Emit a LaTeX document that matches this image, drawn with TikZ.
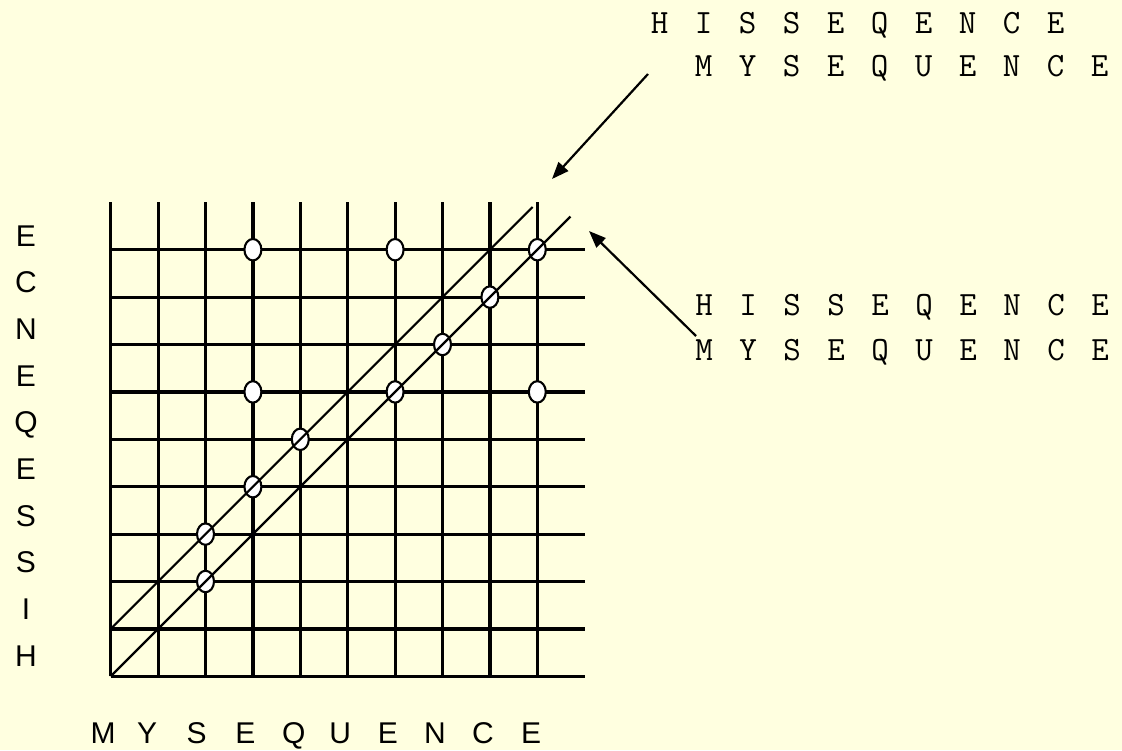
\documentclass[tikz,border=0pt]{standalone}
\usepackage{fontspec}
\setmainfont{Liberation Sans}
\usetikzlibrary{arrows.meta,shapes.geometric}
\definecolor{bgyellow}{RGB}{255,255,224}
\newcommand\spacedseq[1]{\foreach \c in {#1}{\makebox[44pt][c]{\c}}}
\begin{document}
\begin{tikzpicture}[x=1pt,y=-1pt,
  gridline/.style={line width=3.2pt},
  diag/.style={line width=2.2pt},
  dot/.style={ellipse, draw, fill=white, line width=2.1pt, minimum width=17pt, minimum height=21.5pt, inner sep=0pt},
  lbl/.style={font=\fontsize{30}{30}\selectfont, inner sep=0pt, anchor=base},
  seq/.style={font=\ttfamily\fontsize{34}{34}\selectfont, inner sep=0pt, anchor=base west},
  arr/.style={line width=2.2pt, -{Triangle[length=17pt,width=13pt]}}
]
\fill[bgyellow] (0,0) rectangle (1122,750);
\useasboundingbox (0,0) rectangle (1122,750);

\begin{scope}[shift={(110.7,676.3)}, x=47.4pt, y=47.4pt]
  \foreach \j in {0,...,9} \draw[gridline] (\j,0) -- (\j,10);
  \foreach \k in {0,...,9} \draw[gridline] (0,\k) -- (10,\k);
  \foreach \p/\q [count=\n] in {3/9,6/9,9/9,8/8,7/7,3/6,6/6,9/6,4/5,3/4,2/3,2/2}
    \node[dot] (m\n) at (\p,\q) {};
  \coordinate (d1a) at (0,1);
  \coordinate (d1b) at (8.9,9.9);
  \coordinate (d2a) at (0,0);
  \coordinate (d2b) at (9.7,9.7);
  \draw[diag] (d1a) -- (d1b);
  \draw[diag] (d2a) -- (d2b);
\end{scope}

\node[seq] (t1) at (637.5,33) {\spacedseq{H,I,S,S,E,Q,E,N,C,E}};
\node[seq] (t2) at (681.5,76) {\spacedseq{M,Y,S,E,Q,U,E,N,C,E}};
\node[seq] (t3) at (682,315) {\spacedseq{H,I,S,S,E,Q,E,N,C,E}};
\node[seq] (t4) at (682,360) {\spacedseq{M,Y,S,E,Q,U,E,N,C,E}};

\coordinate (a1s) at (648,74);
\coordinate (a1e) at (552,179);
\coordinate (a2s) at (696,336);
\coordinate (a2e) at (589,231);
\draw[arr] (a1s) -- (a1e);
\draw[arr] (a2s) -- (a2e);

\foreach \ch [count=\i from 0] in {E,C,N,E,Q,E,S,S,I,H}
  \node[lbl] (v\i) at (26,{246+46.67*\i}) {\ch};

\foreach \ch/\xx [count=\i] in {M/103,Y/147.2,S/196.7,E/245.5,Q/293.8,U/340.2,E/388,N/435,C/483,E/531}
  \node[lbl] (h\i) at (\xx,743) {\ch};
\end{tikzpicture}
\end{document}
